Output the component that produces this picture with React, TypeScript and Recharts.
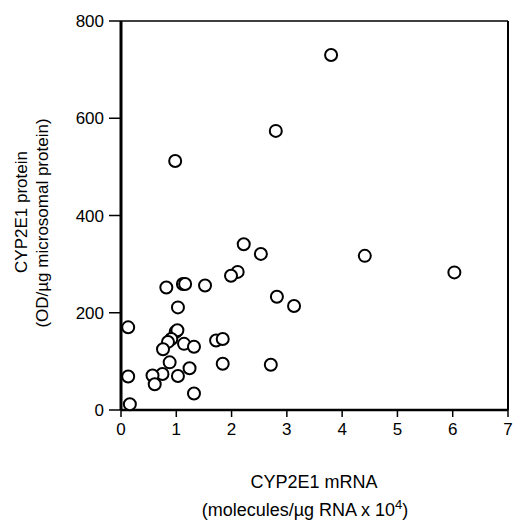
import React from 'react';
import { ScatterChart, Scatter, XAxis, YAxis, ReferenceLine } from 'recharts';

// CYP2E1 mRNA (x 10^4 molecules/ug RNA)
const mrna = [
  0.98, 3.8, 2.8, 2.22, 2.53, 2.11, 1.99, 2.82, 0.82, 1.12, 1.16, 1.52,
  1.03, 0.13, 0.99, 1.02, 0.91, 0.85, 1.14, 1.32, 0.76, 1.72, 1.84, 1.84,
  2.71, 0.88, 1.24, 0.75, 1.03, 0.57, 0.61, 0.13, 1.32, 0.16, 4.41, 6.03, 3.13,
];

// CYP2E1 protein (OD/ug microsomal protein)
const protein = [
  512, 730, 574, 341, 321, 284, 276, 233, 252, 259, 259, 256,
  211, 170, 161, 164, 146, 140, 136, 130, 125, 143, 146, 95,
  93, 98, 86, 74, 70, 71, 53, 69, 34, 12, 317, 283, 214,
];

const xTicks = [0, 1, 2, 3, 4, 5, 6, 7];
const yTicks = [0, 200, 400, 600, 800];

const points = mrna.map((x, i) => ({ x, y: protein[i] }));

const font = 'Arial, "Liberation Sans", sans-serif';

const OpenCircle = (props: any) => (
  <circle cx={props.cx} cy={props.cy} r={6} fill="#fff" stroke="#000" strokeWidth={2} />
);

const XTitle = () => (
  <g fontFamily={font} fontSize={18} fill="#000" textAnchor="middle">
    <text x={314} y={488}>CYP2E1 mRNA</text>
    <text x={305} y={516}>
      (molecules/µg RNA x 10<tspan dy={-7} fontSize={13}>4</tspan>
      <tspan dy={7}>)</tspan>
    </text>
  </g>
);

const YTitle = () => (
  <g fontFamily={font} fontSize={17} fill="#000" textAnchor="middle">
    <text x={27} y={212} transform="rotate(-90 27 212)">CYP2E1 protein</text>
    <text x={48} y={223} transform="rotate(-90 48 223)">(OD/µg microsomal protein)</text>
  </g>
);

export default function App() {
  return (
    <div style={{ position: 'absolute', left: 0, top: 0, background: '#fff' }}>
      <ScatterChart
        width={513}
        height={520}
        margin={{ top: 21, right: 5, bottom: 80, left: 61 }}
      >
        <XAxis
          type="number"
          dataKey="x"
          domain={[0, 7]}
          ticks={xTicks}
          interval={0}
          height={30}
          tickSize={7}
          tickMargin={6}
          axisLine={{ stroke: '#000', strokeWidth: 2.5 }}
          tickLine={{ stroke: '#000', strokeWidth: 1.5 }}
          tick={{ fill: '#000', fontSize: 17, fontFamily: font }}
          label={{ content: () => <XTitle /> }}
        />
        <YAxis
          type="number"
          dataKey="y"
          domain={[0, 800]}
          ticks={yTicks}
          interval={0}
          width={60}
          tickSize={12}
          tickMargin={5}
          axisLine={{ stroke: '#000', strokeWidth: 3 }}
          tickLine={{ stroke: '#000', strokeWidth: 1.5 }}
          tick={{ fill: '#000', fontSize: 17, fontFamily: font }}
          label={{ content: () => <YTitle /> }}
        />
        <ReferenceLine y={800} stroke="#000" strokeWidth={1.5} />
        <ReferenceLine x={7} stroke="#000" strokeWidth={2} />
        <Scatter data={points} shape={OpenCircle} isAnimationActive={false} />
      </ScatterChart>
    </div>
  );
}
